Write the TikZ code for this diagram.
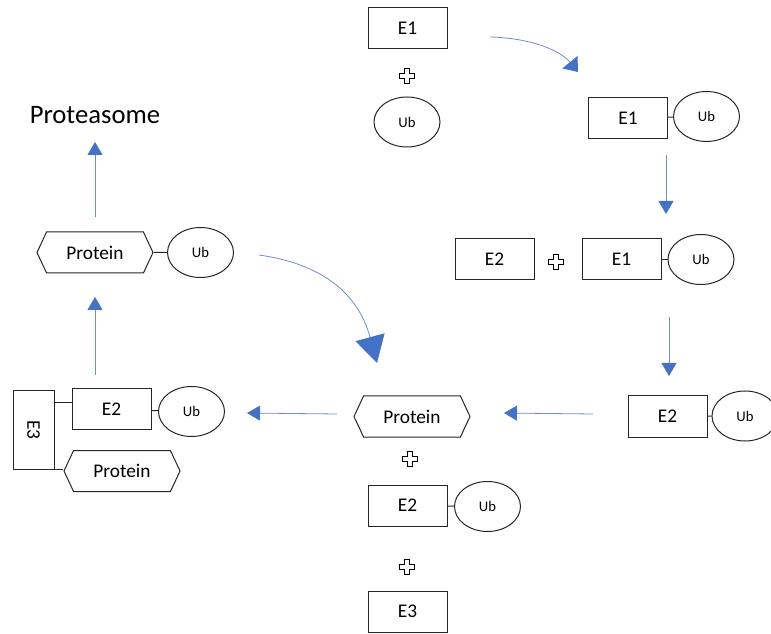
\documentclass[tikz,border=0pt]{standalone}
\usepackage{fontspec}
\setmainfont{Carlito}
\usetikzlibrary{arrows.meta,shapes.geometric,shapes.symbols}
\definecolor{ubblue}{RGB}{68,114,196}
\tikzset{
  plusmark/.pic={
    \draw[line width=0.8pt] (-7.5,-2.6) -- (-2.6,-2.6) -- (-2.6,-7.5) -- (2.6,-7.5) -- (2.6,-2.6) -- (7.5,-2.6)
      -- (7.5,2.6) -- (2.6,2.6) -- (2.6,7.5) -- (-2.6,7.5) -- (-2.6,2.6) -- (-7.5,2.6) -- cycle;
  }
}

\begin{document}
\begin{tikzpicture}[x=0.75pt,y=-0.75pt,
    enzyme/.style={draw=black!85,line width=0.75pt,minimum width=59.25pt,minimum height=30.75pt,inner sep=0pt,font=\fontsize{14.5}{16}\selectfont},
    ubtag/.style={ellipse,draw=black!85,line width=0.75pt,minimum width=49.5pt,minimum height=37.5pt,inner sep=0pt,font=\fontsize{11}{12}\selectfont},
    substrate/.style={signal,signal to=west and east,signal pointer angle=130,draw=black!85,line width=0.75pt,minimum width=87pt,minimum height=30.75pt,inner sep=0pt,font=\fontsize{14.5}{16}\selectfont},
    link/.style={black!85,line width=0.75pt},
    flow/.style={ubblue!80,line width=0.6pt,-{Triangle[width=11.25pt,length=9.75pt,color=ubblue]}}]
  \useasboundingbox (0,0) rectangle (771,634);
  \clip (0,0) rectangle (771,634);
  % E1 + Ub
  \node[enzyme] (e1a) at (407.5,28) {E1};
  \pic at (407,76) {plusmark};
  \node[ubtag] (uba) at (407,122) {Ub};
  % E1~Ub
  \node[enzyme] (e1b) at (628,118) {E1};
  \node[ubtag] (ubb) at (706.5,116.5) {Ub};
  \draw[link] (e1b) -- (ubb);
  % E2 + E1~Ub
  \node[enzyme] (e2c) at (494.5,259.5) {E2};
  \pic at (556,262) {plusmark};
  \node[enzyme] (e1c) at (621.5,259.5) {E1};
  \node[ubtag] (ubc) at (701,259.5) {Ub};
  \draw[link] (e1c) -- (ubc);
  % E2~Ub
  \node[enzyme] (e2d) at (667.5,416.5) {E2};
  \node[ubtag] (ubd) at (745,416) {Ub};
  \draw[link] (e2d) -- (ubd);
  % Protein + E2~Ub + E3
  \node[substrate] (prc) at (412,416.5) {Protein};
  \pic at (410,459) {plusmark};
  \node[enzyme] (e2e) at (407.5,505.5) {E2};
  \node[ubtag] (ube) at (487.5,506.5) {Ub};
  \draw[link] (e2e) -- (ube);
  \pic at (407,567) {plusmark};
  \node[enzyme] (e3e) at (407.5,611.5) {E3};
  % E3 complex
  \node[enzyme,minimum width=30.75pt,minimum height=58.5pt] (e3f) at (33.5,430) {\rotatebox{-90}{E3}};
  \node[enzyme] (e2f) at (111.5,409.5) {E2};
  \node[ubtag] (ubf) at (191.5,411.5) {Ub};
  \node[substrate] (prf) at (122,471) {Protein};
  \draw[link] (e2f) -- (ubf);
  \draw[link] ([yshift=5.6pt]e2f.west) -- ([yshift=5.6pt]e2f.west -| e3f.east);
  \draw[link] (e3f.south east) -- (e3f.south east -| prf.west);
  % Protein~Ub
  \node[substrate] (prg) at (95,252.5) {Protein};
  \node[ubtag] (ubg) at (200.5,252.5) {Ub};
  \draw[link] (prg) -- (ubg);
  \node[font=\fontsize{20}{24}\selectfont] (proteasome) at (95,115) {Proteasome};
  % Arrows
  \coordinate (a1s) at (490,37);  \coordinate (a1e) at (578,72);
  \coordinate (a2s) at (666,155); \coordinate (a2e) at (666,214);
  \coordinate (a3s) at (669,317); \coordinate (a3e) at (669,376);
  \coordinate (a4s) at (593,414); \coordinate (a4e) at (504,413);
  \coordinate (a5s) at (337,414); \coordinate (a5e) at (247,413);
  \coordinate (a6s) at (95,375);  \coordinate (a6e) at (95,297);
  \coordinate (a7s) at (95,217);  \coordinate (a7e) at (95,142);
  \coordinate (a8s) at (259,255); \coordinate (a8e) at (377,363);
  \draw[flow,-{Triangle[width=14.5pt,length=9.5pt,color=ubblue]}] (a1s) .. controls (530,38) and (560,50) .. (a1e);
  \draw[flow] (a2s) -- (a2e);
  \draw[flow] (a3s) -- (a3e);
  \draw[flow] (a4s) -- (a4e);
  \draw[flow] (a5s) -- (a5e);
  \draw[flow] (a6s) -- (a6e);
  \draw[flow] (a7s) -- (a7e);
  \draw[flow,-{Triangle[width=22.5pt,length=20pt,color=ubblue]}] (a8s) .. controls (330,265) and (360,300) .. (a8e);
\end{tikzpicture}
\end{document}
